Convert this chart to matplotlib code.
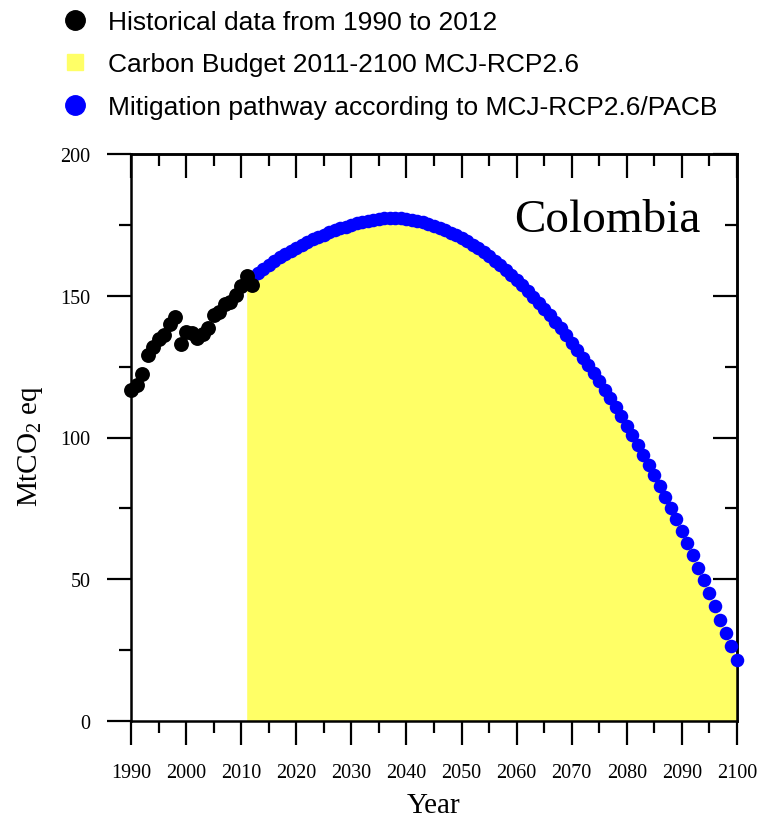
import matplotlib
matplotlib.use("Agg")
import matplotlib.pyplot as plt
from matplotlib.lines import Line2D

# Historical emissions (MtCO2 eq)
hist_years = list(range(1990, 2013))
hist_values = [116.9, 118.5, 122.4, 129.1, 131.8, 134.7, 136.2, 140.0, 142.4, 133.0,
               137.1, 136.9, 135.1, 136.5, 138.5, 143.2, 144.2, 147.1, 147.9, 150.3,
               153.3, 156.9, 153.8]

# Mitigation pathway 2011-2100 (MtCO2 eq)
path_years = list(range(2011, 2101))
path_values = [155.0, 156.6, 158.1, 159.5, 160.9, 162.2, 163.5, 164.7, 165.9, 167.0,
               168.0, 169.0, 169.9, 170.8, 171.6, 172.4, 173.1, 173.8, 174.4, 175.0,
               175.5, 176.0, 176.4, 176.8, 177.1, 177.3, 177.4, 177.4, 177.3, 177.1,
               176.8, 176.4, 175.9, 175.3, 174.7, 174.0, 173.2, 172.3, 171.3, 170.3,
               169.2, 168.0, 166.7, 165.3, 163.9, 162.4, 160.8, 159.1, 157.4, 155.6,
               153.7, 151.7, 149.7, 147.6, 145.4, 143.2, 140.9, 138.5, 136.0, 133.5,
               130.9, 128.2, 125.5, 122.7, 119.8, 116.8, 113.8, 110.6, 107.5, 104.2,
               100.9, 97.5, 94.0, 90.4, 86.7, 82.9, 79.0, 75.1, 71.1, 67.0,
               62.8, 58.5, 54.1, 49.6, 45.1, 40.5, 35.8, 31.1, 26.4, 21.6]

x_ticks = list(range(1990, 2101, 10))
y_ticks = [0, 50, 100, 150, 200]

COLOR_FILL = "#FFFF66"
COLOR_PATH = "#0000FF"
COLOR_HIST = "black"

plt.rcParams["font.family"] = "Liberation Serif"
plt.rcParams["mathtext.default"] = "regular"

fig = plt.figure(figsize=(7.6, 8.2), dpi=100)
ax = fig.add_axes([131 / 760, 98 / 820, 606 / 760, 567 / 820])

# Carbon budget area and pathway
ax.fill_between(path_years, 0, path_values, color=COLOR_FILL, linewidth=0, zorder=1)
ax.scatter(path_years, path_values, s=95, color=COLOR_PATH, linewidths=0, zorder=3, clip_on=False)
ax.scatter(hist_years, hist_values, s=115, color=COLOR_HIST, linewidths=0, zorder=4, clip_on=False)

ax.set_xlim(1990, 2100)
ax.set_ylim(0, 200)
ax.set_xticks(x_ticks)
ax.set_xticks(range(1995, 2100, 10), minor=True)
ax.set_yticks(y_ticks)
ax.set_yticks([25, 75, 125, 175], minor=True)

for sp in ax.spines.values():
    sp.set_linewidth(1.8)

ax.tick_params(which="major", direction="out", length=17, width=1.6, labelsize=14.5)
ax.tick_params(which="minor", direction="out", length=8.6, width=1.6)
ax.tick_params(axis="x", which="major", pad=13)
ax.tick_params(axis="y", which="major", pad=12)

# inward ticks on top and right
top = ax.secondary_xaxis("top")
top.set_xticks(x_ticks)
top.set_xticks(range(1995, 2100, 10), minor=True)
top.tick_params(which="major", direction="in", length=17, width=1.6, labeltop=False)
top.tick_params(which="minor", direction="in", length=8.6, width=1.6)
top.spines["top"].set_linewidth(1.8)

right = ax.secondary_yaxis("right")
right.set_yticks(y_ticks)
right.set_yticks([25, 75, 125, 175], minor=True)
right.tick_params(which="major", direction="in", length=17, width=1.6, labelright=False)
right.tick_params(which="minor", direction="in", length=8.6, width=1.6)
right.spines["right"].set_linewidth(1.8)

ax.set_xlabel("Year", fontsize=21)
ax.xaxis.set_label_coords(0.5, -0.126)
ax.set_ylabel("MtCO$_2$ eq", fontsize=21)
ax.yaxis.set_label_coords(-0.142, 0.487)

ax.text(0.939, 0.864, "Colombia", transform=ax.transAxes, ha="right", va="baseline", fontsize=34)

# Legend above the plot
handles = [
    Line2D([], [], linestyle="none", marker="o", markersize=14, color=COLOR_HIST),
    Line2D([], [], linestyle="none", marker="s", markersize=12, color=COLOR_FILL),
    Line2D([], [], linestyle="none", marker="o", markersize=14, color=COLOR_PATH),
]
labels = ["Historical data from 1990 to 2012",
          "Carbon Budget 2011-2100 MCJ-RCP2.6",
          "Mitigation pathway according to MCJ-RCP2.6/PACB"]
fig.legend(handles, labels, loc="upper left", bbox_to_anchor=(62 / 760, 1 - 11 / 820),
           frameon=False, borderpad=0, borderaxespad=0, handlelength=1.0, handletextpad=0.75,
           labelspacing=0.7, prop={"family": "Liberation Sans", "size": 19})

fig.savefig("out.png", dpi=100)
plt.close(fig)
